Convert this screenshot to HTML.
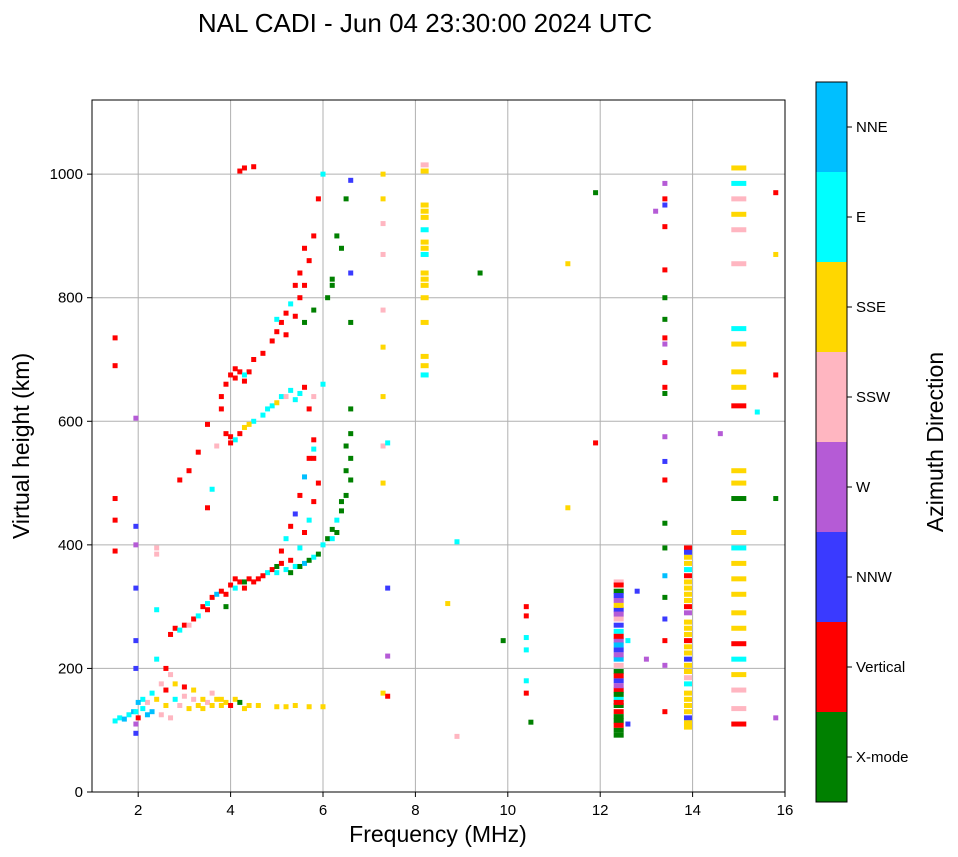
<!DOCTYPE html>
<html><head><meta charset="utf-8"><style>
body{margin:0;background:#fff;}
svg{display:block;font-family:"Liberation Sans","DejaVu Sans",sans-serif;}
</style></head><body>
<svg id="chart" width="958" height="857">
<text x="425" y="32" font-size="26" text-anchor="middle">NAL CADI - Jun 04 23:30:00 2024 UTC</text>
<g id="grid"></g>
<g id="marks"></g>
<rect x="92" y="100" width="693" height="692" fill="none" stroke="#000" stroke-width="1"/>
<g id="axes"></g>
<text x="438" y="842" font-size="23" text-anchor="middle">Frequency (MHz)</text>
<text transform="translate(29,446) rotate(-90)" font-size="23" text-anchor="middle">Virtual height (km)</text>
<g id="cbar"></g>
<text transform="translate(943,442) rotate(-90)" font-size="23" text-anchor="middle">Azimuth Direction</text>
</svg>
<script>
const dirLabels=["X-mode","Vertical","NNW","W","SSW","SSE","E","NNE"];
const dirColors=["#008000","#ff0000","#3a3aff","#b55bd6","#ffb6c1","#ffd700","#00ffff","#00bfff"];
const xTicks=[2,4,6,8,10,12,14,16];
const yTicks=[0,200,400,600,800,1000];
const eRegion=[[1.5,115,6],[1.6,120,6],[1.7,118,7],[1.8,125,6],[1.9,130,7],[1.95,110,3],[1.95,95,2],[2.0,120,1],[2.1,135,6],[2.2,145,4],[2.3,160,6],[2.4,150,5],[2.5,175,4],[2.6,165,1],[2.7,190,4],[2.8,150,6],[2.9,140,4],[3.0,170,1],[3.1,135,5],[3.2,150,4],[3.3,140,5],[3.4,135,5],[3.5,145,4],[3.6,140,5],[3.7,150,5],[3.8,140,5],[3.9,145,5],[4.0,140,1],[4.1,150,5],[4.2,145,0],[4.4,140,5],[4.6,140,5],[5.0,138,5],[5.2,138,5],[5.4,140,5],[5.7,138,5],[6.0,138,5],[2.3,130,7],[2.5,125,4],[2.6,200,1],[1.95,200,2],[1.95,245,2],[1.95,330,2],[1.95,400,3],[1.95,430,2],[1.95,605,3],[1.5,690,1],[1.5,735,1],[1.5,475,1],[1.5,440,1],[1.5,390,1],[2.4,385,4],[2.4,395,4],[2.4,295,6],[2.4,215,6],[2.1,150,6],[2.2,125,7],[2.6,140,5],[2.8,175,5],[3.0,155,4],[3.2,165,5],[3.4,150,5],[3.6,160,4],[3.8,150,5],[4.3,135,5],[1.95,130,6],[2.0,145,7],[2.7,120,4]];
const fTrace=[[2.7,255,1],[2.8,265,1],[2.9,262,6],[3.0,270,1],[3.1,270,4],[3.2,280,1],[3.3,285,6],[3.4,300,1],[3.5,305,6],[3.6,315,1],[3.7,320,7],[3.8,325,1],[3.9,300,0],[4.0,335,1],[4.1,330,6],[4.2,340,1],[4.3,340,0],[4.4,345,1],[4.6,345,1],[4.8,355,6],[4.9,360,1],[5.0,365,0],[5.1,370,1],[5.2,360,6],[5.3,355,0],[5.4,365,6],[5.5,365,0],[5.6,370,7],[5.7,375,0],[5.8,380,6],[5.9,385,0],[6.0,400,6],[6.1,410,0],[6.2,425,0],[6.3,440,6],[6.4,455,0],[6.5,480,0],[6.6,505,0],[5.1,390,1],[5.2,410,6],[5.3,430,1],[5.4,450,2],[5.5,480,1],[5.6,510,7],[5.7,540,1],[5.8,570,1],[6.6,540,0],[6.6,580,0],[6.6,620,0],[3.5,295,1],[3.9,320,1],[4.1,345,1],[4.3,330,1],[4.5,340,1],[4.7,350,1],[5.0,355,6],[5.3,375,1],[5.5,395,6],[5.6,420,1],[5.7,440,6],[5.8,470,1],[5.9,500,1],[6.2,410,6],[6.3,420,0],[6.4,470,0],[6.5,520,0],[6.5,560,0],[5.8,540,1],[5.8,555,6]];
const secondHop=[[2.9,505,1],[3.1,520,1],[3.3,550,1],[3.5,460,1],[3.5,595,1],[3.6,490,6],[3.7,560,4],[3.8,620,1],[3.9,580,1],[4.0,575,1],[4.1,570,6],[4.3,590,5],[4.5,600,6],[4.7,610,6],[4.9,625,6],[5.0,630,5],[5.1,640,6],[5.2,640,4],[5.3,650,6],[5.5,645,6],[5.6,655,1],[5.8,640,4],[6.0,660,6],[4.0,565,1],[4.2,580,1],[4.4,595,5],[4.8,620,6],[5.4,635,6],[5.7,620,1]];
const thirdHop=[[3.8,640,1],[3.9,660,1],[4.0,675,1],[4.2,680,1],[4.4,680,1],[4.5,700,1],[4.7,710,1],[4.9,730,1],[5.0,745,1],[5.1,760,1],[5.2,775,1],[5.3,790,6],[5.4,820,1],[5.5,840,1],[5.6,880,1],[5.8,900,1],[5.9,960,1],[6.0,1000,6],[4.2,1005,1],[4.3,1010,1],[4.5,1012,1],[5.6,760,0],[5.8,780,0],[6.1,800,0],[6.2,830,0],[6.4,880,0],[6.5,960,0],[6.6,990,2],[6.6,840,2],[6.6,760,0],[5.0,765,6],[4.1,670,1],[4.3,665,1],[4.1,685,1],[4.3,675,6],[5.2,740,1],[5.4,770,1],[5.5,800,1],[5.6,820,1],[5.7,860,1],[6.2,820,0],[6.3,900,0]];
const midColumns=[[7.3,1000,5],[7.3,960,5],[7.3,920,4],[7.3,870,4],[7.3,780,4],[7.3,720,5],[7.3,640,5],[7.3,560,4],[7.3,500,5],[7.4,330,2],[7.4,220,3],[7.3,160,5],[7.4,565,6],[7.4,155,1],[8.2,1005,5],[8.2,950,5],[8.2,930,5],[8.2,910,6],[8.2,890,5],[8.2,870,6],[8.2,840,5],[8.2,820,5],[8.2,800,5],[8.2,760,5],[8.2,705,5],[8.2,690,5],[8.2,675,6],[8.2,1015,4],[8.2,940,5],[8.2,880,5],[8.2,830,5],[8.9,405,6],[8.7,305,5],[8.9,90,4],[10.4,300,1],[10.4,285,1],[10.4,250,6],[10.4,230,6],[10.4,180,6],[10.4,160,1],[10.5,113,0],[9.4,840,0],[9.9,245,0],[11.3,855,5],[11.3,460,5],[11.9,970,0],[11.9,565,1]];
const col12=[[12.4,340,4],[12.4,325,0],[12.4,310,3],[12.4,295,2],[12.4,280,4],[12.4,260,6],[12.4,245,3],[12.4,230,2],[12.4,215,7],[12.4,195,0],[12.4,180,2],[12.4,165,1],[12.4,150,6],[12.4,140,0],[12.4,130,1],[12.4,115,0],[12.4,100,0],[12.4,92,0],[12.4,335,1],[12.4,318,2],[12.4,302,5],[12.4,288,3],[12.4,270,2],[12.4,252,1],[12.4,238,7],[12.4,222,3],[12.4,205,4],[12.4,188,1],[12.4,172,3],[12.4,158,0],[12.4,145,1],[12.4,122,0],[12.4,108,1],[12.6,110,2],[12.6,245,6],[12.8,325,2],[13.0,215,3],[13.2,940,3]];
const col13=[[13.4,985,3],[13.4,960,1],[13.4,950,2],[13.4,915,1],[13.4,845,1],[13.4,800,0],[13.4,765,0],[13.4,735,1],[13.4,725,3],[13.4,695,1],[13.4,655,1],[13.4,645,0],[13.4,575,3],[13.4,535,2],[13.4,505,1],[13.4,435,0],[13.4,395,0],[13.4,350,7],[13.4,315,0],[13.4,280,2],[13.4,245,1],[13.4,205,3],[13.4,130,1],[13.9,395,1],[13.9,380,5],[13.9,360,6],[13.9,340,5],[13.9,320,5],[13.9,300,1],[13.9,290,3],[13.9,275,5],[13.9,255,5],[13.9,235,5],[13.9,215,2],[13.9,195,5],[13.9,175,6],[13.9,160,5],[13.9,140,5],[13.9,120,2],[13.9,105,5],[13.9,388,2],[13.9,370,5],[13.9,350,1],[13.9,330,5],[13.9,310,5],[13.9,265,5],[13.9,245,1],[13.9,225,5],[13.9,205,5],[13.9,185,4],[13.9,150,5],[13.9,130,5],[13.9,112,5]];
const col15=[[15.0,1010,5],[15.0,985,6],[15.0,960,4],[15.0,935,5],[15.0,910,4],[15.0,855,4],[15.0,750,6],[15.0,725,5],[15.0,680,5],[15.0,655,5],[15.0,625,1],[15.4,615,6],[15.0,520,5],[15.0,500,5],[15.0,475,0],[15.0,420,5],[15.0,395,6],[15.0,370,5],[15.0,345,5],[15.0,320,5],[15.0,290,5],[15.0,265,5],[15.0,240,1],[15.0,215,6],[15.0,190,5],[15.0,165,4],[15.0,135,4],[15.0,110,1],[14.6,580,3],[15.8,970,1],[15.8,870,5],[15.8,675,1],[15.8,475,0],[15.8,120,3]];
const xMin=1,xMax=16,yMin=0,yMax=1120;
const L=92,R=785,T=100,B=792;
const sx=f=>L+(f-xMin)/(xMax-xMin)*(R-L);
const sy=h=>B-(h-yMin)/(yMax-yMin)*(B-T);
const NS="http://www.w3.org/2000/svg";
function mk(tag,attrs,parent){const e=document.createElementNS(NS,tag);for(const k in attrs)e.setAttribute(k,attrs[k]);parent.appendChild(e);return e;}
const grid=document.getElementById('grid'),axes=document.getElementById('axes'),marks=document.getElementById('marks'),cbar=document.getElementById('cbar');
xTicks.forEach(t=>{const x=sx(t);
 const g=mk('line',{x1:x,x2:x,y1:T,y2:B,stroke:'#b0b0b0','stroke-width':1},grid);
 
 const tk=mk('line',{x1:x,x2:x,y1:B,y2:B+5,stroke:'#000'},axes);
 
 const tx=mk('text',{x:x,y:B+23,'font-size':15,'text-anchor':'middle'},axes);tx.textContent=t;
 });
yTicks.forEach(t=>{const y=sy(t);
 const g=mk('line',{x1:L,x2:R,y1:y,y2:y,stroke:'#b0b0b0','stroke-width':1},grid);
 
 const tk=mk('line',{x1:L-5,x2:L,y1:y,y2:y,stroke:'#000'},axes);
 
 const tx=mk('text',{x:L-9,y:y+5,'font-size':15,'text-anchor':'end'},axes);tx.textContent=t;
 });
[eRegion,fTrace,secondHop,thirdHop,midColumns,col12,col13,col15].forEach(grp=>grp.forEach(p=>{
 let w=5; if(p[0]>=12.3&&p[0]<=12.5)w=10; if(p[0]>=13.8&&p[0]<=14)w=8; if(p[0]>=14.9&&p[0]<=15.1)w=15; if(p[0]>=8.1&&p[0]<=8.3)w=8;
 const r=mk('rect',{x:sx(p[0])-w/2,y:sy(p[1])-2.5,width:w,height:5,fill:dirColors[p[2]]},marks);
 
 }));
const cx=816,cw=31,ct=82,cb=802,seg=(cb-ct)/dirLabels.length;
dirLabels.forEach((d,i)=>{const y=cb-(i+1)*seg;
 const r=mk('rect',{x:cx,y:y,width:cw,height:seg,fill:dirColors[i]},cbar);
 
 const tk=mk('line',{x1:cx+cw,x2:cx+cw+5,y1:y+seg/2,y2:y+seg/2,stroke:'#000'},cbar);
 
 const tx=mk('text',{x:cx+cw+9,y:y+seg/2+5,'font-size':15},cbar);tx.textContent=d;
 });
const fr=mk('rect',{x:cx,y:ct,width:cw,height:cb-ct,fill:'none',stroke:'#000'},cbar);

</script>
</body></html>
